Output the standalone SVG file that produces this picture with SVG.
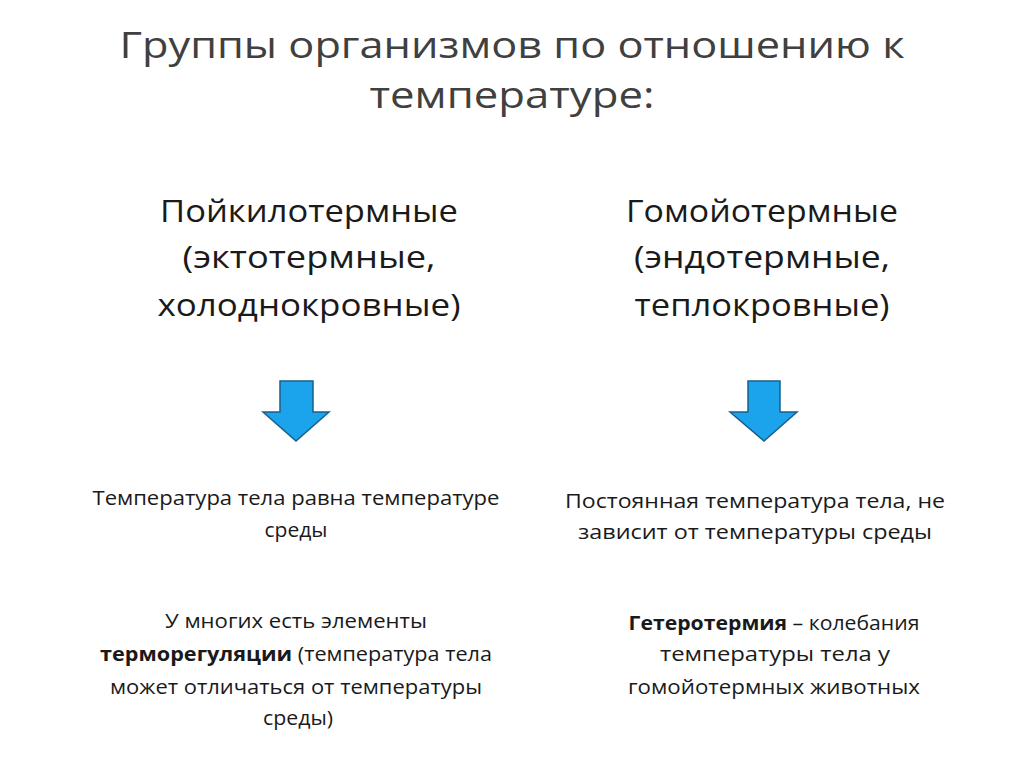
<svg xmlns="http://www.w3.org/2000/svg" width="1024" height="767" viewBox="0 0 1024 767">
<style>
text{font-family:"Open Sans","Liberation Sans",sans-serif;fill:#262626;text-anchor:middle}
.t{font-size:37px;fill:#404040}
.s{font-size:31px;fill:#1a1a1a}
.b{font-size:20px;fill:#1a1a1a}
.arr{fill:#1ba4ec;stroke:#1a5f8a;stroke-width:1.5}
</style>
<rect width="1024" height="767" fill="#fff"/>
<g id="title">
<text class="t" x="512" y="58" textLength="785" lengthAdjust="spacingAndGlyphs">Группы организмов по отношению к</text>
<text class="t" x="512" y="108" textLength="285" lengthAdjust="spacingAndGlyphs">температуре:</text>
</g>
<g id="left-head">
<text class="s" x="309" y="222" textLength="298" lengthAdjust="spacingAndGlyphs">Пойкилотермные</text>
<text class="s" x="309" y="268" textLength="253" lengthAdjust="spacingAndGlyphs">(эктотермные,</text>
<text class="s" x="309" y="316" textLength="303" lengthAdjust="spacingAndGlyphs">холоднокровные)</text>
</g>
<g id="right-head">
<text class="s" x="762" y="222" textLength="272" lengthAdjust="spacingAndGlyphs">Гомойотермные</text>
<text class="s" x="762" y="268" textLength="256" lengthAdjust="spacingAndGlyphs">(эндотермные,</text>
<text class="s" x="762" y="316" textLength="255" lengthAdjust="spacingAndGlyphs">теплокровные)</text>
</g>
<g id="connectors">
<path class="arr" d="M280 381H313V412H329L296 441L263 412H280Z"/>
<path class="arr" d="M748 381H780V412H797L764 441L730 412H748Z"/>
</g>
<g id="left-body1">
<text class="b" x="296" y="505" textLength="407" lengthAdjust="spacingAndGlyphs">Температура тела равна температуре</text>
<text class="b" x="296" y="537" textLength="63" lengthAdjust="spacingAndGlyphs">среды</text>
</g>
<g id="right-body1">
<text class="b" x="755" y="508" textLength="380" lengthAdjust="spacingAndGlyphs">Постоянная температура тела, не</text>
<text class="b" x="755" y="539" textLength="354" lengthAdjust="spacingAndGlyphs">зависит от температуры среды</text>
</g>
<g id="left-body2">
<text class="b" x="296" y="628" textLength="262" lengthAdjust="spacingAndGlyphs">У многих есть элементы</text>
<text class="b" x="296" y="661" textLength="392" lengthAdjust="spacingAndGlyphs"><tspan font-weight="bold">терморегуляции</tspan> (температура тела</text>
<text class="b" x="296" y="694" textLength="372" lengthAdjust="spacingAndGlyphs">может отличаться от температуры</text>
<text class="b" x="298" y="725" textLength="70" lengthAdjust="spacingAndGlyphs">среды)</text>
</g>
<g id="right-body2">
<text class="b" x="774" y="630" textLength="291" lengthAdjust="spacingAndGlyphs"><tspan font-weight="bold">Гетеротермия</tspan> – колебания</text>
<text class="b" x="775" y="661" textLength="230" lengthAdjust="spacingAndGlyphs">температуры тела у</text>
<text class="b" x="774" y="694" textLength="292" lengthAdjust="spacingAndGlyphs">гомойотермных животных</text>
</g>
</svg>
